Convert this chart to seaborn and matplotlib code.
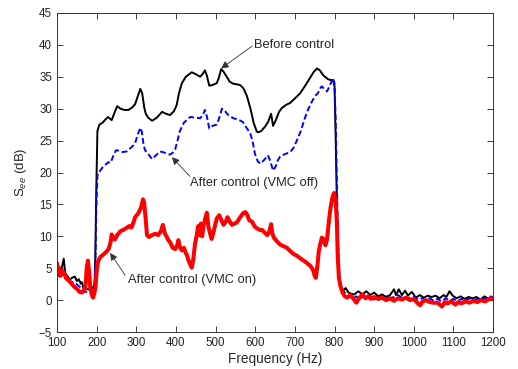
import matplotlib
matplotlib.use("Agg")
import matplotlib.pyplot as plt
import seaborn as sns

# Before control (black)
freq_before = [100, 104, 108, 113, 117, 121, 126, 132, 138, 145, 150, 155, 160, 163, 167, 172, 178, 185, 190, 195,
               197, 199, 202, 207, 215, 222, 229, 234, 238, 244, 252, 260, 270, 280, 290, 297, 303, 310, 315, 320,
               324, 330, 340, 352, 365, 375, 385, 395, 402, 408, 415, 425, 440, 450, 461, 467, 473, 478, 484, 492,
               503, 508, 514, 520, 528, 536, 545, 555, 562, 570, 579, 588, 596, 604, 608, 615, 625, 633, 640, 645,
               652, 660, 667, 678, 688, 700, 713, 725, 738, 748, 756, 763, 772, 784, 790, 796, 800, 803, 806, 808,
               810, 813, 817, 822, 828, 835, 842, 850, 860, 870, 880, 890, 900, 910, 920, 930, 940, 950, 955, 962,
               970, 978, 985, 995, 1005, 1015, 1025, 1035, 1045, 1055, 1065, 1075, 1082, 1090, 1098, 1108, 1118,
               1128, 1138, 1148, 1158, 1168, 1178, 1188, 1195, 1200]
see_before = [4.7, 3.8, 4.5, 5.3, 6.5, 4.2, 3.8, 3.2, 3.5, 3.7, 3.0, 3.3, 2.6, 2.8, 1.8, 1.9, 1.7, 1.7, 1.9, 2.5,
              8.0, 17.0, 26.5, 27.5, 27.8, 28.3, 28.7, 28.4, 28.2, 29.2, 30.4, 30.0, 29.8, 29.8, 30.2, 30.7, 31.8,
              33.1, 32.4, 30.2, 29.2, 28.6, 28.1, 28.6, 29.5, 29.2, 29.0, 29.6, 30.6, 32.5, 34.0, 35.0, 35.7, 35.4,
              35.0, 35.4, 36.0, 35.2, 33.6, 33.7, 34.0, 34.8, 36.2, 35.8, 35.0, 34.2, 33.9, 33.8, 33.7, 33.2, 32.0,
              30.0, 27.8, 26.4, 26.3, 26.5, 27.2, 28.0, 29.2, 27.3, 28.2, 29.5, 30.1, 30.6, 30.9, 31.6, 32.4, 33.5,
              34.8, 35.8, 36.3, 36.0, 35.2, 34.6, 34.5, 34.5, 33.5, 25.0, 15.0, 8.0, 4.0, 2.5, 2.0, 1.5, 1.9, 1.2,
              1.0, 0.9, 1.4, 0.9, 1.4, 0.8, 1.2, 0.6, 0.9, 0.5, 0.8, 1.7, 0.8, 1.7, 0.8, 1.5, 0.7, 1.3, 0.4, 0.8,
              0.4, 0.7, 0.5, 0.7, 0.3, 0.8, 0.5, 1.4, 0.7, 0.3, 0.6, 0.2, 0.5, 0.3, 0.5, 0.1, 0.6, 0.2, 0.5, 0.3]

# After control, VMC off (blue dashed)
freq_off = [100, 104, 110, 115, 120, 126, 132, 140, 148, 155, 160, 166, 172, 180, 188, 194, 197, 199, 202, 208,
            215, 222, 229, 235, 242, 249, 256, 265, 276, 285, 292, 297, 303, 310, 314, 318, 322, 330, 340, 348,
            360, 372, 385, 392, 398, 404, 410, 420, 436, 448, 461, 468, 473, 478, 484, 492, 503, 509, 516, 524,
            532, 545, 557, 569, 578, 587, 593, 599, 606, 612, 620, 627, 632, 638, 645, 652, 657, 663, 672, 680,
            688, 696, 705, 715, 725, 733, 742, 751, 758, 764, 768, 775, 781, 788, 796, 800, 803, 806, 809, 812,
            815, 820, 826, 833, 840, 848, 855, 862, 870, 878, 885, 892, 900, 910, 920, 930, 940, 950, 960, 970,
            980, 990, 1000, 1010, 1020, 1030, 1040, 1050, 1060, 1070, 1080, 1090, 1100, 1110, 1120, 1130, 1140,
            1150, 1160, 1170, 1180, 1190, 1200]
see_off = [5.2, 4.0, 4.2, 4.8, 4.3, 3.5, 3.0, 2.8, 2.6, 2.2, 2.0, 1.5, 1.3, 1.4, 1.5, 1.8, 6.0, 14.0, 19.5, 20.2,
           20.8, 21.2, 21.6, 21.5, 22.6, 23.5, 23.4, 23.2, 23.3, 23.8, 24.2, 24.6, 25.8, 27.0, 26.4, 24.5, 23.5,
           22.9, 22.1, 22.6, 23.3, 23.1, 22.8, 23.1, 23.6, 25.0, 26.5, 27.8, 28.7, 28.6, 28.5, 29.0, 29.8, 28.8,
           26.9, 27.3, 27.5, 28.5, 30.0, 29.6, 29.0, 28.5, 28.3, 27.9, 27.0, 26.2, 25.0, 23.0, 21.8, 21.4, 21.8,
           22.3, 22.7, 21.8, 20.3, 21.0, 21.9, 22.5, 22.8, 23.0, 23.2, 23.8, 25.0, 26.5, 28.5, 29.8, 31.0, 32.0,
           32.4, 33.2, 33.5, 33.0, 32.7, 33.6, 34.8, 34.0, 28.0, 18.0, 9.0, 4.0, 2.3, 1.5, 1.2, 0.5, 0.8, 0.3,
           0.6, 0.2, 0.5, 0.9, 0.3, 0.5, 0.1, 0.4, 0.2, 0.6, 0.3, 0.5, 0.8, 0.4, 0.2, 0.4, 0.6, 0.1, 0.3, 0.0,
           0.3, -0.1, 0.2, -0.2, 0.3, -0.1, 0.2, -0.2, 0.2, -0.1, 0.3, 0.0, 0.2, 0.0, 0.3, 0.6, 0.5]

# After control, VMC on (red)
freq_on = [100, 103, 106, 109, 113, 118, 123, 128, 135, 142, 150, 157, 163, 168, 172, 175, 178, 181, 184, 188,
           191, 194, 197, 200, 204, 210, 218, 225, 230, 235, 238, 242, 246, 252, 260, 267, 275, 282, 288, 293,
           297, 305, 312, 317, 320, 324, 327, 332, 340, 348, 355, 362, 367, 372, 380, 386, 392, 398, 403, 406,
           410, 415, 420, 424, 428, 432, 436, 440, 444, 448, 452, 456, 460, 463, 466, 470, 474, 478, 482, 486,
           490, 494, 498, 503, 509, 515, 520, 525, 530, 536, 541, 548, 554, 560, 569, 575, 579, 585, 592, 598,
           605, 612, 617, 624, 630, 635, 640, 643, 647, 655, 663, 670, 680, 688, 695, 704, 713, 722, 731, 740,
           746, 750, 753, 757, 760, 764, 768, 772, 777, 781, 786, 790, 795, 799, 803, 806, 808, 811, 815, 820,
           826, 832, 840, 848, 855, 862, 870, 878, 885, 892, 900, 910, 920, 930, 940, 950, 960, 970, 980, 990,
           1000, 1010, 1016, 1022, 1030, 1040, 1050, 1060, 1071, 1078, 1085, 1095, 1105, 1112, 1120, 1130, 1140,
           1150, 1160, 1170, 1180, 1190, 1200]
see_on = [5.8, 4.2, 5.0, 3.8, 4.6, 4.3, 3.4, 3.2, 2.7, 2.2, 1.8, 1.3, 1.2, 1.5, 2.3, 5.0, 6.2, 4.5, 2.0, 0.8,
          0.4, 1.0, 2.0, 4.5, 6.2, 6.8, 7.2, 7.6, 8.0, 9.0, 10.3, 9.8, 9.5, 10.2, 10.8, 11.0, 11.3, 11.6, 11.4,
          12.2, 13.0, 13.6, 14.5, 15.8, 15.2, 12.5, 10.2, 9.9, 10.2, 10.4, 10.2, 10.8, 11.8, 10.5, 9.5, 9.0, 8.2,
          8.0, 8.5, 9.4, 8.3, 7.8, 8.2, 7.5, 7.0, 6.2, 5.6, 5.1, 6.5, 8.8, 10.0, 11.6, 10.2, 12.0, 10.0, 11.8,
          12.8, 13.7, 11.5, 10.5, 9.6, 10.5, 11.5, 12.8, 13.3, 12.5, 11.8, 12.2, 13.0, 12.3, 11.8, 12.0, 12.2,
          12.8, 13.6, 13.8, 13.5, 12.5, 12.3, 11.6, 11.2, 11.0, 11.0, 10.6, 10.2, 10.6, 11.9, 10.5, 9.8, 9.2,
          8.7, 8.5, 8.2, 7.7, 7.3, 7.0, 6.6, 6.2, 5.8, 5.3, 4.7, 3.8, 3.5, 5.5, 7.5, 8.8, 9.8, 9.6, 8.6, 9.5,
          12.5, 14.5, 16.2, 16.8, 15.5, 12.0, 7.0, 3.5, 2.2, 1.2, 0.6, 0.4, 0.8, 0.2, -0.4, 0.3, 0.9, 0.3, 0.6,
          0.2, 0.5, 0.2, 0.4, 0.0, 0.3, -0.1, 0.3, 0.1, 0.4, 0.0, 0.2, -0.5, -0.8, -0.2, 0.0, -0.3, -0.4, -0.4,
          -1.0, -0.3, -0.5, -0.2, -0.7, -0.3, -0.5, -0.2, -0.4, -0.1, -0.3, 0.0, -0.2, 0.2, 0.3]

x_ticks = list(range(100, 1201, 100))
y_ticks = list(range(-5, 46, 5))

sns.set_style("ticks")
plt.rcParams["font.family"] = ["Liberation Sans", "DejaVu Sans"]
plt.rcParams["mathtext.fontset"] = "custom"
plt.rcParams["mathtext.rm"] = "Liberation Sans"
plt.rcParams["mathtext.it"] = "Liberation Sans:italic"

fig = plt.figure(figsize=(5.18, 3.69), dpi=100)
ax = fig.add_axes([0.110, 0.100, 0.842, 0.865])

sns.lineplot(x=freq_before, y=see_before, ax=ax, color="black", lw=1.4)
sns.lineplot(x=freq_off, y=see_off, ax=ax, color="#0000ff", lw=1.4, linestyle=(0, (3, 1.5)))
sns.lineplot(x=freq_on, y=see_on, ax=ax, color="#ff0000", lw=2.9)

ax.set_xlim(100, 1200)
ax.set_ylim(-5, 45)
ax.set_xticks(x_ticks)
ax.set_yticks(y_ticks)
ax.tick_params(direction="in", top=True, right=True, labelsize=8.3, length=4, width=0.6, colors="#222222")
for side in ax.spines.values():
    side.set_linewidth(0.7)
    side.set_color("#333333")

ax.set_xlabel("Frequency (Hz)", fontsize=9.8, labelpad=2)
ax.set_ylabel("S$_{ee}$ (dB)", fontsize=9.5, labelpad=7)

arrow = dict(arrowstyle="-|>", color="#333333", lw=0.6, mutation_scale=11, shrinkA=0, shrinkB=0)
ax.annotate("", xy=(514, 36.3), xytext=(592, 39.8), arrowprops=arrow)
ax.text(597, 40.0, "Before control", fontsize=9.3, ha="left", va="center")
ax.annotate("", xy=(390, 22.4), xytext=(435, 19.4), arrowprops=arrow)
ax.text(436, 18.3, "After control (VMC off)", fontsize=9.3, ha="left", va="center")
ax.annotate("", xy=(234, 7.4), xytext=(272, 3.9), arrowprops=arrow)
ax.text(279, 3.1, "After control (VMC on)", fontsize=9.3, ha="left", va="center")

fig.savefig("out.png", dpi=100)
